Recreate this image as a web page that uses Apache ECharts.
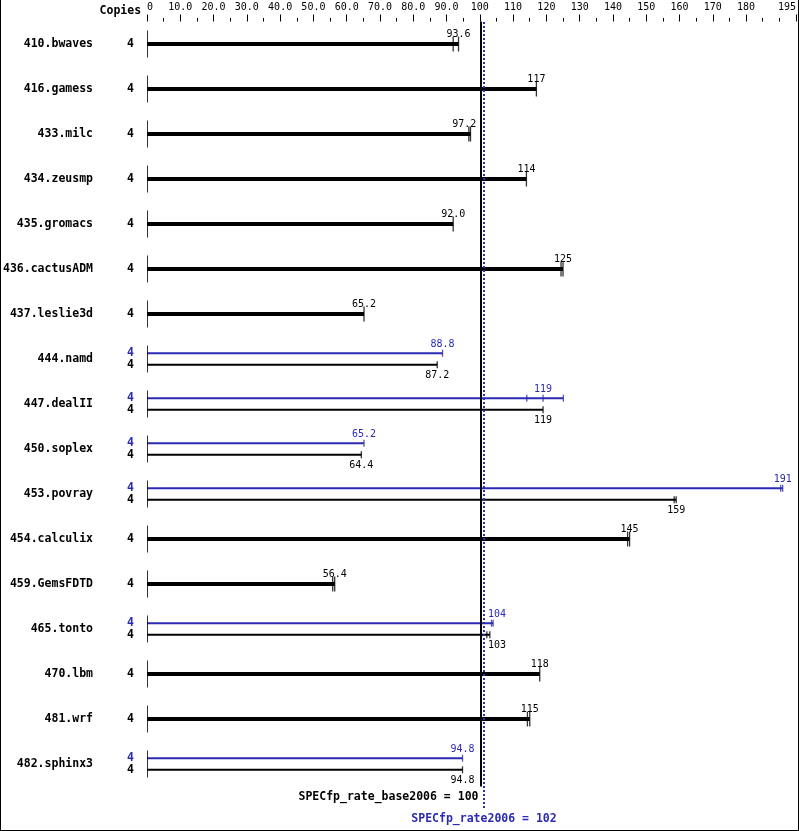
<!DOCTYPE html>
<html><head><meta charset="utf-8">
<script src="https://cdn.jsdelivr.net/npm/echarts@6/dist/echarts.min.js"></script>
<style>
html,body{margin:0;padding:0;background:#fff;}
#wrap{position:relative;width:799px;height:831px;}
#chart{position:absolute;left:0;top:0;width:799px;height:831px;}
#frame{position:absolute;left:0;top:0;width:799px;height:831px;box-sizing:border-box;border-left:1px solid #000;border-right:1px solid #000;border-bottom:1px solid #000;pointer-events:none;}
</style></head><body>
<div id="wrap"><div id="chart"></div><div id="frame"></div></div>
<script>
// ---- data ----
const benchmarks = ['410.bwaves','416.gamess','433.milc','434.zeusmp','435.gromacs','436.cactusADM','437.leslie3d','444.namd','447.dealII','450.soplex','453.povray','454.calculix','459.GemsFDTD','465.tonto','470.lbm','481.wrf','482.sphinx3'];
const copiesBase = [4,4,4,4,4,4,4,4,4,4,4,4,4,4,4,4,4];
const copiesPeak = [null,null,null,null,null,null,null,4,4,4,4,null,null,4,null,null,4];
const baseRatio = [93.6,117,97.2,114,92.0,125,65.2,87.2,119,64.4,159,145,56.4,103,118,115,94.8];
const peakRatio = [null,null,null,null,null,null,null,88.8,119,65.2,191,null,null,104,null,null,94.8]; // null: peak same as base
const baseRuns = [[92.0,93.6],[117],[96.7,97.2],[114],[92.0],[124.4,125],[65.2],[87.2],[119],[64.4],[158.4,159],[144.4,145],[55.8,56.4],[102.1,103],[118],[114.3,115],[94.8]];
const peakRuns = [null,null,null,null,null,null,null,[88.8],[114.1,119,125.1],[65.2],[190.4,191],null,null,[103.5,104],null,null,[94.8]];
const majorTicks = [0,10,20,30,40,50,60,70,80,90,100,110,120,130,140,150,160,170,180,195];
const minorTicks = [5,15,25,35,45,55,65,75,85,95,105,115,125,135,145,155,165,175,185,190];
const baseMetric = 100, peakMetric = 102;
const baseLineAt = 100.2, peakLineAt = 101.1;   // where the picture draws the two metric lines
const baseMetricLabel = 'SPECfp_rate_base2006 = 100';
const peakMetricLabel = 'SPECfp_rate2006 = 102';

// ---- style ----
const BLUE = '#2a2ab4';
const MONO = 'DejaVu Sans Mono';
const AXMAX = 195;
const pxPerUnit = (799 - 147 - 2) / AXMAX;
const fmt = v => v >= 100 ? v.toFixed(0) : v.toFixed(1);

// shift labels that would collide with the metric lines
function labelShift(v) {
  const txt = fmt(v);
  const hw = txt.length * 6 / 2;
  const c = v * pxPerUnit;
  const lineL = baseMetric * pxPerUnit - 3.6;
  const lineR = peakMetric * pxPerUnit + 1.5;
  if (c + hw > lineL && c - hw < lineR) {
    if (v < (baseMetric + peakMetric) / 2) return (lineL - hw) - c;
    return (lineR + hw) - c;
  }
  return 0;
}
const rows = benchmarks.map((_, i) => i);
const isSplit = i => peakRatio[i] != null;
// bar reaches the furthest run, label sits at the reported ratio
const barItem = (ratio, runs) => {
  const end = Math.max(...runs);
  return {value: end, ratio: ratio, label: {offset: [labelShift(ratio) + (ratio - end) * pxPerUnit, 0]}};
};

const valueLabel = (pos, vAlign, color) => ({
  show: true, position: pos, align: 'center', verticalAlign: vAlign,
  fontFamily: MONO, fontSize: 10, color: color, formatter: p => fmt(p.data.ratio)
});

const chart = echarts.init(document.getElementById('chart'), null, {renderer: 'canvas'});
const option = {
  animation: false,
  backgroundColor: '#fff',
  grid: [
    {left: 147, right: 2, top: 21.5, height: 765},
    {left: 147, right: 2, top: 21.5, bottom: 23}
  ],
  xAxis: [
    {gridIndex: 0, type: 'value', position: 'top', min: 0, max: AXMAX, interval: 5,
     axisLine: {show: false}, splitLine: {show: false},
     axisTick: {show: true, customValues: majorTicks, length: 7, lineStyle: {color: '#000', width: 1}},
     axisLabel: {show: true, customValues: majorTicks, margin: 9, fontFamily: MONO, fontSize: 10, color: '#000',
       alignMinLabel: 'left', alignMaxLabel: 'right',
       formatter: v => v === 0 ? '0' : (v < 100 ? v.toFixed(1) : String(v))},
     name: 'Copies', nameLocation: 'start', nameGap: 5,
     nameTextStyle: {fontFamily: MONO, fontWeight: 'bold', fontSize: 11.5, color: '#000', verticalAlign: 'bottom', padding: [0, 0, 4, 0]}},
    {gridIndex: 0, type: 'value', position: 'top', min: 0, max: AXMAX,
     axisLine: {show: false}, splitLine: {show: false}, axisLabel: {show: false},
     axisTick: {show: true, customValues: minorTicks, length: 3.5, lineStyle: {color: '#000', width: 1}}},
    {gridIndex: 1, type: 'value', min: 0, max: AXMAX, show: false}
  ],
  yAxis: [
    {gridIndex: 0, type: 'category', data: benchmarks, inverse: true, position: 'left',
     axisLine: {show: false}, axisTick: {show: false}, splitLine: {show: false},
     axisLabel: {margin: 54, fontFamily: MONO, fontWeight: 'bold', fontSize: 11.5, color: '#000'}},
    {gridIndex: 0, type: 'category', data: benchmarks, inverse: true, position: 'left', offset: 0,
     axisLine: {show: false}, axisTick: {show: false}, splitLine: {show: false},
     axisLabel: {margin: 13, fontFamily: MONO, fontWeight: 'bold', fontSize: 11.5, color: '#000',
       formatter: (v, i) => copiesPeak[i] != null ? '{p|' + copiesPeak[i] + '}\n{b|' + copiesBase[i] + '}' : '{b|' + copiesBase[i] + '}',
       rich: {
         p: {color: BLUE, fontFamily: MONO, fontWeight: 'bold', fontSize: 11.5, lineHeight: 12.6},
         b: {color: '#000', fontFamily: MONO, fontWeight: 'bold', fontSize: 11.5, lineHeight: 12.6}
       }}},
    {gridIndex: 1, type: 'value', min: 0, max: 1, show: false}
  ],
  series: [
    // combined (base == peak) thick bars
    {type: 'bar', name: 'combined', xAxisIndex: 0, yAxisIndex: 1, barWidth: 4,
     itemStyle: {color: '#000'},
     label: valueLabel(['100%', -3], 'bottom', '#000'),
     data: rows.map(i => isSplit(i) ? '-' : barItem(baseRatio[i], baseRuns[i])),
     markLine: {silent: true, symbol: ['none', 'none'], animation: false,
       lineStyle: {color: '#000', type: 'solid', width: 2},
       label: {show: true, position: 'end', align: 'right', formatter: baseMetricLabel,
         fontFamily: MONO, fontWeight: 'bold', fontSize: 11.5, color: '#000', padding: [0, 2, 0, 0]},
       data: [{xAxis: baseLineAt}]}},
    // peak thin bars
    {type: 'bar', name: 'peak', xAxisIndex: 0, yAxisIndex: 0, barWidth: 2, barGap: '480%',
     itemStyle: {color: BLUE},
     label: valueLabel(['100%', -3], 'bottom', BLUE),
     data: rows.map(i => isSplit(i) ? barItem(peakRatio[i], peakRuns[i]) : '-')},
    // base thin bars
    {type: 'bar', name: 'base', xAxisIndex: 0, yAxisIndex: 0, barWidth: 2, barGap: '480%',
     itemStyle: {color: '#000'},
     label: valueLabel(['100%', 7], 'top', '#000'),
     data: rows.map(i => isSplit(i) ? barItem(baseRatio[i], baseRuns[i]) : '-')},
    // run ticks
    {type: 'scatter', xAxisIndex: 0, yAxisIndex: 1, symbol: 'rect', symbolSize: [1.3, 15], clip: false,
     itemStyle: {color: '#000'}, z: 3,
     data: rows.filter(i => !isSplit(i)).flatMap(i => baseRuns[i].map(v => [v, i]))},
    {type: 'scatter', xAxisIndex: 0, yAxisIndex: 0, symbol: 'rect', symbolSize: [1.3, 7], symbolOffset: [0, -5.8], clip: false,
     itemStyle: {color: BLUE}, z: 3,
     data: rows.filter(isSplit).flatMap(i => peakRuns[i].map(v => [v, i]))},
    {type: 'scatter', xAxisIndex: 0, yAxisIndex: 0, symbol: 'rect', symbolSize: [1.3, 7], symbolOffset: [0, 5.8], clip: false,
     itemStyle: {color: '#000'}, z: 3,
     data: rows.filter(isSplit).flatMap(i => baseRuns[i].map(v => [v, i]))},
    // row stubs at zero
    {type: 'scatter', xAxisIndex: 0, yAxisIndex: 0, symbol: 'rect', symbolSize: [1, 27], symbolOffset: [0.5, 0], clip: false,
     itemStyle: {color: '#000'},
     data: rows.map(i => [0, i])},
    // peak metric line
    {type: 'line', xAxisIndex: 2, yAxisIndex: 2, data: [], z: 6,
     markLine: {silent: true, symbol: ['none', 'none'], animation: false,
       lineStyle: {color: BLUE, type: [2, 2], width: 2},
       label: {show: true, position: 'start', formatter: peakMetricLabel,
         fontFamily: MONO, fontWeight: 'bold', fontSize: 11.5, color: BLUE},
       data: [{xAxis: peakLineAt}]}}
  ]
};
chart.setOption(option);
</script>
</body></html>
